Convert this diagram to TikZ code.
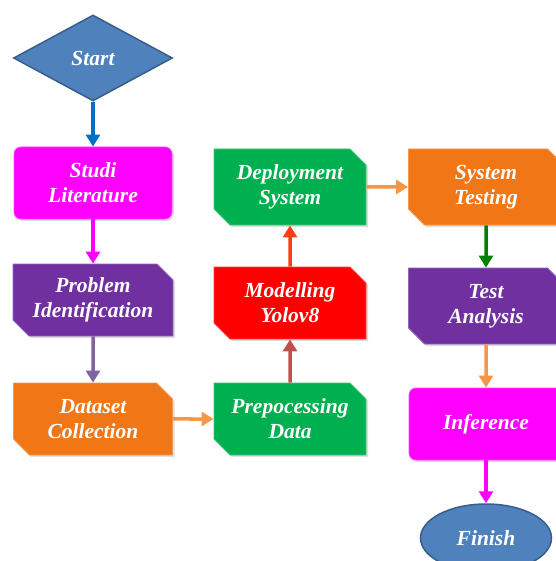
\documentclass[tikz,border=0pt]{standalone}
\usepackage{fontspec}
\setmainfont{Liberation Serif}
\usetikzlibrary{shapes.geometric,shapes.misc,shadows,arrows.meta}

\definecolor{sblue}{RGB}{79,129,189}
\definecolor{sborder}{RGB}{56,93,138}
\definecolor{fmagenta}{RGB}{255,0,255}
\definecolor{fpurple}{RGB}{112,48,160}
\definecolor{forange}{RGB}{240,118,22}
\definecolor{fgreen}{RGB}{0,176,80}
\definecolor{fred}{RGB}{255,0,0}
\definecolor{ablue}{RGB}{0,112,192}
\definecolor{apurple}{RGB}{128,100,162}
\definecolor{aorange}{RGB}{247,150,70}
\definecolor{abrown}{RGB}{192,80,77}
\definecolor{ared}{RGB}{255,60,20}
\definecolor{agreen}{RGB}{0,128,0}

\tikzset{
  label/.style={text=white,font=\fontsize{21.5}{25}\selectfont\bfseries\itshape,align=center},
  snip/.style={label,chamfered rectangle,chamfered rectangle corners={north east,south west},
    chamfered rectangle xsep=8pt,chamfered rectangle ysep=8pt,
    fill=#1,draw=#1!75!white,line width=0.8pt,inner sep=0pt,
    minimum width=152pt,minimum height=72pt,
    drop shadow={opacity=0.25,shadow xshift=2pt,shadow yshift=-2pt}},
  rbox/.style={label,rectangle,rounded corners=7pt,fill=#1,draw=#1!75!white,line width=0.8pt,
    minimum width=158pt,minimum height=72pt,
    drop shadow={opacity=0.25,shadow xshift=2pt,shadow yshift=-2pt}},
  flow/.style={line width=3.5pt,draw=#1,-{Triangle[width=14pt,length=12pt]}}
}

\begin{document}
\begin{tikzpicture}[x=1pt,y=-1pt]
  \useasboundingbox (0,0) rectangle (555,561);

  % left column
  \node[label,diamond,fill=sblue,draw=sborder,line width=1.5pt,
        minimum width=159pt,minimum height=86pt,inner sep=0pt] (start) at (93,58) {Start};
  \node[rbox=fmagenta] (studi) at (93,183) {Studi\\Literature};
  \node[snip=fpurple,minimum width=160pt] (problem) at (93,300) {Problem\\Identification};
  \node[snip=forange,minimum width=159pt] (dataset) at (93,419) {Dataset\\Collection};

  % middle column
  \node[snip=fgreen] (prepro) at (290,419) {Prepocessing\\Data};
  \node[snip=fred] (model) at (290,303) {Modelling\\Yolov8};
  \node[snip=fgreen,minimum height=76pt] (deploy) at (290,187) {Deployment\\System};

  % right column
  \node[snip=forange,minimum width=155pt,minimum height=76pt] (systest) at (486,187) {System\\Testing};
  \node[snip=fpurple,minimum width=155pt,minimum height=76pt] (analysis) at (486,306) {Test\\Analysis};
  \node[rbox=fmagenta,minimum width=154pt] (infer) at (486,424) {Inference};
  \node[label,ellipse,fill=sblue,draw=sborder,line width=1.5pt,
        minimum width=131pt,minimum height=68pt] (finish) at (486,538) {Finish};

  % arrows
  \draw[flow=ablue] (start) -- (studi);
  \draw[flow=fmagenta] (studi) -- (problem);
  \draw[flow=apurple] (problem) -- (dataset);
  \draw[flow=aorange] (dataset) -- (prepro);
  \draw[flow=abrown] (prepro) -- (model);
  \draw[flow=ared] (model) -- (deploy);
  \draw[flow=aorange] (deploy) -- (systest);
  \draw[flow=agreen] (systest) -- (analysis);
  \draw[flow=aorange] (analysis) -- (infer);
  \draw[flow=fmagenta] (infer) -- (finish);
\end{tikzpicture}
\end{document}
